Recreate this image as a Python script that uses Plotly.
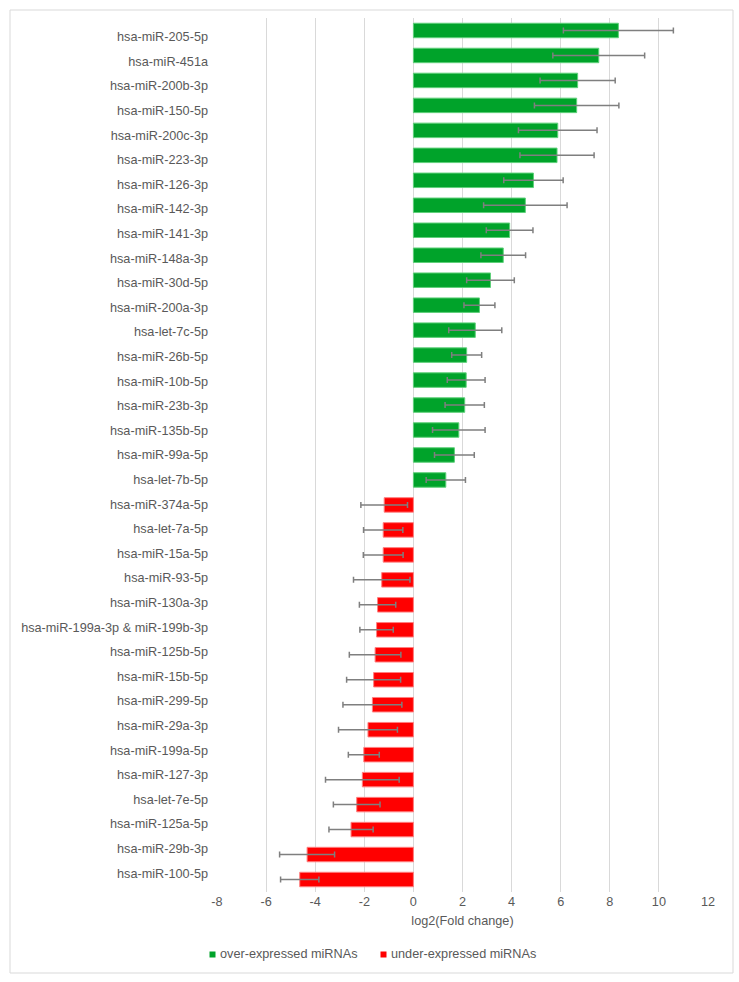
import plotly.graph_objects as go

over_names = ["hsa-miR-205-5p", "hsa-miR-451a", "hsa-miR-200b-3p", "hsa-miR-150-5p",
              "hsa-miR-200c-3p", "hsa-miR-223-3p", "hsa-miR-126-3p", "hsa-miR-142-3p",
              "hsa-miR-141-3p", "hsa-miR-148a-3p", "hsa-miR-30d-5p", "hsa-miR-200a-3p",
              "hsa-let-7c-5p", "hsa-miR-26b-5p", "hsa-miR-10b-5p", "hsa-miR-23b-3p",
              "hsa-miR-135b-5p", "hsa-miR-99a-5p", "hsa-let-7b-5p"]
over_vals = [8.35, 7.55, 6.69, 6.65, 5.88, 5.85, 4.89, 4.56, 3.92, 3.66, 3.14, 2.69,
             2.52, 2.17, 2.15, 2.09, 1.85, 1.67, 1.32]
over_err = [2.24, 1.87, 1.53, 1.72, 1.60, 1.51, 1.21, 1.70, 0.95, 0.91, 0.97, 0.63,
            1.08, 0.61, 0.77, 0.80, 1.07, 0.81, 0.80]

under_names = ["hsa-miR-374a-5p", "hsa-let-7a-5p", "hsa-miR-15a-5p", "hsa-miR-93-5p",
               "hsa-miR-130a-3p", "hsa-miR-199a-3p & miR-199b-3p", "hsa-miR-125b-5p",
               "hsa-miR-15b-5p", "hsa-miR-299-5p", "hsa-miR-29a-3p", "hsa-miR-199a-5p",
               "hsa-miR-127-3p", "hsa-let-7e-5p", "hsa-miR-125a-5p", "hsa-miR-29b-3p",
               "hsa-miR-100-5p"]
under_vals = [-1.19, -1.23, -1.23, -1.29, -1.46, -1.50, -1.56, -1.62, -1.67, -1.85,
              -2.02, -2.08, -2.31, -2.54, -4.33, -4.63]
under_err = [0.95, 0.80, 0.81, 1.15, 0.74, 0.68, 1.05, 1.10, 1.20, 1.20, 0.63, 1.50,
             0.95, 0.90, 1.12, 0.78]

x_ticks = [-8, -6, -4, -2, 0, 2, 4, 6, 8, 10, 12]
legend_names = ["over-expressed miRNAs", "under-expressed miRNAs"]
green = "#00A32A"
red = "#FF0000"

font_col = "#595959"
fam = "Liberation Sans, Arial, sans-serif"
fs = 12.7

# plot area geometry (pixels)
L, R, T, B = 217, 31, 18, 90
W, H = 739, 982
pw, ph = W - L - R, H - T - B


def px_x(px):
    return (px - L) / pw


def px_y(py):
    return (H - B - py) / ph


all_names = over_names + under_names

fig = go.Figure()
fig.add_trace(go.Bar(
    y=over_names, x=over_vals, orientation="h", name=legend_names[0],
    marker=dict(color=green, line=dict(color="#5fd07a", width=1)),
    width=0.58, showlegend=False,
    error_x=dict(type="data", array=over_err, color="#7f7f7f", thickness=1.5, width=3),
))
fig.add_trace(go.Bar(
    y=under_names, x=under_vals, orientation="h", name=legend_names[1],
    marker=dict(color=red, line=dict(color="#ff8080", width=1)),
    width=0.58, showlegend=False,
    error_x=dict(type="data", array=under_err, color="#7f7f7f", thickness=1.5, width=3),
))
# carrier trace for the category labels axis
fig.add_trace(go.Scatter(x=[None], y=[None], yaxis="y2", showlegend=False,
                         hoverinfo="skip", mode="markers"))

# manual legend (small squares like the original)
shapes = [dict(type="rect", xref="paper", yref="paper",
               x0=px_x(10), x1=px_x(733), y0=px_y(973), y1=px_y(10),
               line=dict(color="#d9d9d9", width=1), layer="below")]
annotations = []
leg_items = [(209.5, green, legend_names[0]), (380.5, red, legend_names[1])]
ly = 954.5
for sx, col, txt in leg_items:
    shapes.append(dict(type="rect", xref="paper", yref="paper",
                       x0=px_x(sx), x1=px_x(sx + 6), y0=px_y(ly + 3), y1=px_y(ly - 3),
                       fillcolor=col, line=dict(width=0)))
    annotations.append(dict(xref="paper", yref="paper", x=px_x(sx + 8.5), y=px_y(ly),
                            xanchor="left", yanchor="middle", text=txt, showarrow=False,
                            font=dict(size=fs, color=font_col, family=fam)))

fig.update_layout(
    width=W, height=H,
    margin=dict(l=L, r=R, t=T, b=B),
    paper_bgcolor="white", plot_bgcolor="white",
    barmode="overlay",
    font=dict(family=fam, size=fs, color=font_col),
    showlegend=False,
    xaxis=dict(range=[-8, 12], tickvals=x_ticks, ticktext=[str(t) for t in x_ticks],
               showgrid=True, gridcolor="#d9d9d9", gridwidth=1, zeroline=False,
               showline=False, ticks="",
               title=dict(text="log2(Fold change)", font=dict(size=fs, color=font_col), standoff=8)),
    yaxis=dict(categoryorder="array", categoryarray=all_names,
               range=[len(all_names) - 0.5, -0.5], showgrid=False, zeroline=False,
               ticks="", showticklabels=False, showline=False),
    yaxis2=dict(overlaying="y", side="left", range=[34.77, -0.76],
                tickvals=list(range(len(all_names))), ticktext=all_names,
                showgrid=False, zeroline=False, ticks="", showline=False,
                ticklabelstandoff=8),
    shapes=shapes,
    annotations=annotations,
)

fig.write_html("out.html")
